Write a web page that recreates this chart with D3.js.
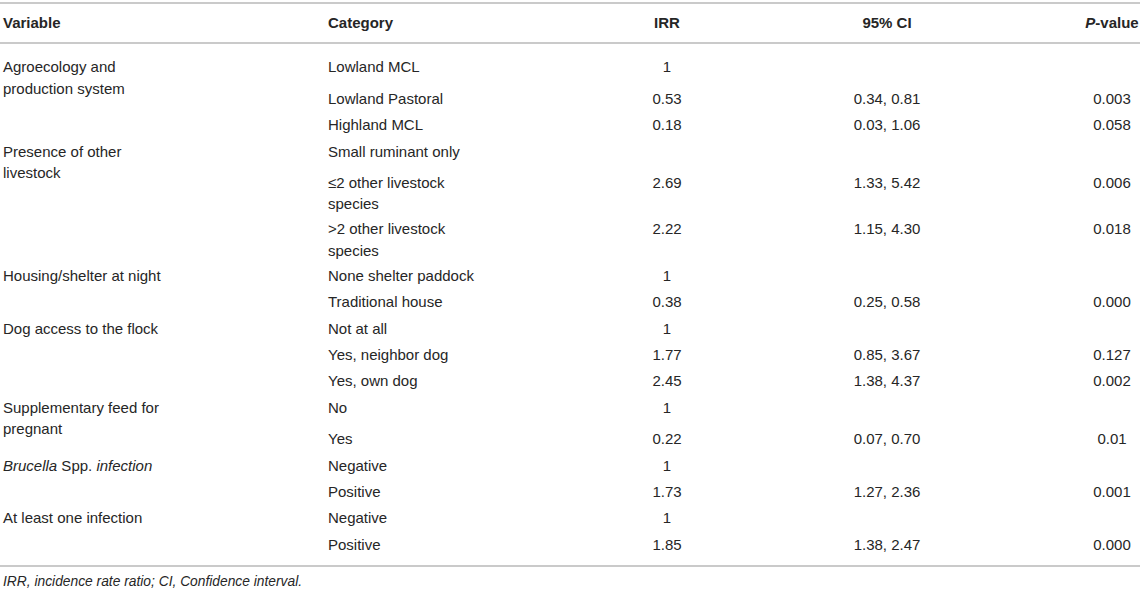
<!DOCTYPE html>
<html>
<head>
<meta charset="utf-8">
<script src="https://cdn.jsdelivr.net/npm/d3@7"></script>
<style>
  html, body { margin: 0; padding: 0; background: #fff; }
  svg { display: block; font-family: "Liberation Sans", Arial, sans-serif; }
</style>
</head>
<body>
<div id="table"></div>
<script>
// table content, one entry per row (category rows), "\n" = wrapped line
const headers = ["Variable", "Category", "IRR", "95% CI", "P-value"];

// variable label lines + how many category rows each one spans
const variableNames = [
    ["Agroecology and", "production system"],
    ["Presence of other", "livestock"],
    ["Housing/shelter at night"],
    ["Dog access to the flock"],
    ["Supplementary feed for", "pregnant"],
    ["Brucella Spp. infection"],
    ["At least one infection"]
];
const groupSizes = [3, 3, 2, 3, 2, 2, 2];

const categories = [
    "Lowland MCL", "Lowland Pastoral", "Highland MCL",
    "Small ruminant only", "\u22642 other livestock\nspecies", ">2 other livestock\nspecies",
    "None shelter paddock", "Traditional house",
    "Not at all", "Yes, neighbor dog", "Yes, own dog",
    "No", "Yes",
    "Negative", "Positive",
    "Negative", "Positive"
];
const irr = ["1", "0.53", "0.18", "", "2.69", "2.22", "1", "0.38", "1", "1.77", "2.45",
    "1", "0.22", "1", "1.73", "1", "1.85"];
const ci = ["", "0.34, 0.81", "0.03, 1.06", "", "1.33, 5.42", "1.15, 4.30", "", "0.25, 0.58",
    "", "0.85, 3.67", "1.38, 4.37", "", "0.07, 0.70", "", "1.27, 2.36", "", "1.38, 2.47"];
const pValues = ["", "0.003", "0.058", "", "0.006", "0.018", "", "0.000", "", "0.127", "0.002",
    "", "0.01", "", "0.001", "", "0.000"];

const footnote = "IRR, incidence rate ratio; CI, Confidence interval.";

const width = 1143;
const height = 592;
const fontSize = 15;
const lineGap = 21.5;     // between wrapped lines in one cell
const rowPitch = 26.4;    // between single-line rows
const textColor = "#262626";
const ruleColor = "#b8b8b8";

// column positions
const col = {
    variable: { x: 3, anchor: "start" },
    category: { x: 328, anchor: "start" },
    irr: { x: 667, anchor: "middle" },
    ci: { x: 887, anchor: "middle" },
    p: { x: 1112, anchor: "middle" }
};

// build row records
const rows = [];
let k = 0;
groupSizes.forEach((n, g) => {
    for (let i = 0; i < n; i++) {
        rows.push({
            group: g,
            first: i === 0,
            variable: i === 0 ? variableNames[g] : null,
            category: categories[k].split("\n"),
            irr: irr[k],
            ci: ci[k],
            p: pValues[k]
        });
        k++;
    }
});

// vertical layout: centre of first line of each row
let y = 67;
rows.forEach(r => {
    r.y = y;
    let step = rowPitch + (r.category.length - 1) * (lineGap - 1.5);
    if (r.first && r.variable.length > 1) step += 5;   // wrapped variable pushes next row a bit
    y += step;
});
const bottomRule = rows[rows.length - 1].y + 21.6;

const svg = d3.select("#table").append("svg")
    .attr("width", width)
    .attr("height", height)
    .attr("viewBox", [0, 0, width, height]);

// horizontal rules
svg.selectAll(".rule")
    .data([3, 43, bottomRule])
    .join("line")
    .attr("class", "rule")
    .attr("x1", 0).attr("x2", 1140)
    .attr("y1", d => d).attr("y2", d => d)
    .attr("stroke", ruleColor)
    .attr("stroke-width", 1.6);

// header
const headerKeys = ["variable", "category", "irr", "ci", "p"];
const head = svg.append("g")
    .attr("font-weight", "bold")
    .attr("font-size", fontSize)
    .attr("fill", textColor);

headers.forEach((h, i) => {
    const c = col[headerKeys[i]];
    const t = head.append("text")
        .attr("x", c.x)
        .attr("y", 23 + 5.3)
        .attr("text-anchor", c.anchor);
    if (h === "P-value") {
        t.append("tspan").attr("font-style", "italic").text("P");
        t.append("tspan").text("-value");
    } else {
        t.text(h);
    }
});

// body
const body = svg.append("g")
    .attr("font-size", fontSize)
    .attr("fill", textColor);

const rowG = body.selectAll(".row")
    .data(rows)
    .join("g")
    .attr("class", "row")
    .attr("transform", d => `translate(0, ${d.y + 5.3})`);

// variable label (first row of each group)
rowG.filter(d => d.first).each(function(d) {
    const g = d3.select(this);
    d.variable.forEach((line, li) => {
        const t = g.append("text")
            .attr("x", col.variable.x)
            .attr("y", li * lineGap);
        if (line.startsWith("Brucella")) {
            t.append("tspan").attr("font-style", "italic").text("Brucella");
            t.append("tspan").text(" Spp. ");
            t.append("tspan").attr("font-style", "italic").text("infection");
        } else {
            t.text(line);
        }
    });
});

// category, possibly wrapped
rowG.selectAll(".cat")
    .data(d => d.category)
    .join("text")
    .attr("class", "cat")
    .attr("x", col.category.x)
    .attr("y", (d, i) => i * lineGap)
    .text(d => d);

["irr", "ci", "p"].forEach(key => {
    rowG.append("text")
        .attr("x", col[key].x)
        .attr("y", 0)
        .attr("text-anchor", col[key].anchor)
        .text(d => d[key]);
});

// footnote
svg.append("text")
    .attr("x", 3)
    .attr("y", bottomRule + 15 + 5)
    .attr("font-size", 13.8)
    .attr("font-style", "italic")
    .attr("fill", textColor)
    .text(footnote);
</script>
</body>
</html>
